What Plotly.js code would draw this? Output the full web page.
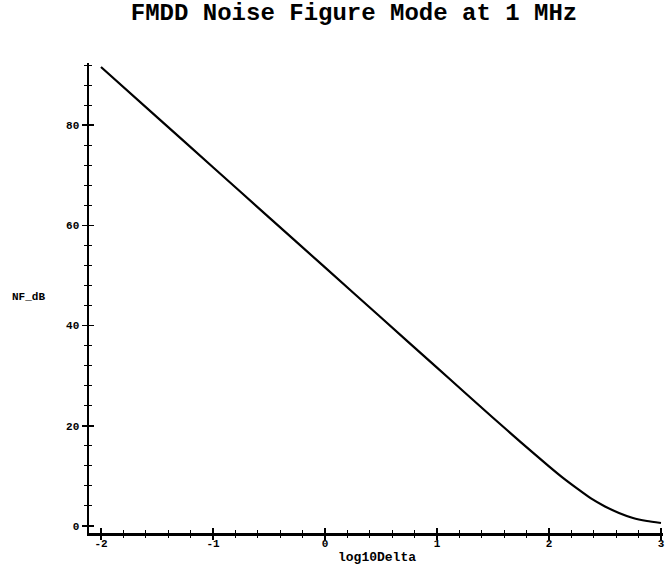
<!DOCTYPE html>
<html>
<head>
<meta charset="utf-8">
<script src="https://cdn.plot.ly/plotly-3.0.1.min.js"></script>
<style>html,body{margin:0;padding:0;background:#fff;}</style>
</head>
<body>
<div id="chart" style="width:668px;height:565px;"></div>
<script>
// Data
const log10Delta = [-2, -1.5, -1, -0.5, 0, 0.5, 1, 1.25, 1.5, 1.75, 2, 2.125, 2.25, 2.375, 2.5, 2.625, 2.75, 2.875, 3];
const NF_dB = [91.6, 81.6, 71.6, 61.6, 51.6, 41.6, 31.6, 26.6, 21.6, 16.7, 11.9, 9.6, 7.5, 5.5, 3.9, 2.6, 1.6, 1.0, 0.6];
const xTickVals = [-2, -1, 0, 1, 2, 3];
const xTickText = ['-2', '-1', '0', '1', '2', '3'];
const yTickVals = [0, 20, 40, 60, 80];
const yTickText = ['0', '20', '40', '60', '80'];

const tickFont = {family: 'Liberation Mono, monospace', size: 11, color: '#000', weight: 'bold'};
const xr = [-2.107, 3.018];
const yr = [-1.4, 92.4];

const trace = {
  x: log10Delta, y: NF_dB, type: 'scatter', mode: 'lines',
  line: {color: '#000', width: 2.2, shape: 'spline', smoothing: 0.6},
  hoverinfo: 'skip', showlegend: false
};

const layout = {
  width: 668, height: 565,
  margin: {l: 89, r: 5, t: 63, b: 32},
  paper_bgcolor: '#fff', plot_bgcolor: '#fff',
  title: {
    text: 'FMDD Noise Figure Mode at 1 MHz',
    font: {family: 'Liberation Mono, monospace', size: 24, color: '#000', weight: 'bold'},
    x: 0.53, xanchor: 'center', xref: 'container', y: 0.979, yanchor: 'middle', yref: 'container'
  },
  xaxis: {
    range: xr, showgrid: false, zeroline: false,
    showline: true, linecolor: '#000', linewidth: 2.5,
    tickmode: 'array', tickvals: xTickVals, ticktext: xTickText,
    ticks: 'outside', ticklen: 4, tickwidth: 1.5, tickcolor: '#000',
    minor: {dtick: 0.2, tick0: 0, ticks: 'outside', ticklen: 2, tickwidth: 1, tickcolor: '#000'},
    tickfont: tickFont, ticklabelstandoff: -6
  },
  xaxis2: {
    overlaying: 'x', matches: 'x', range: xr, showgrid: false, zeroline: false,
    showline: false, showticklabels: false,
    tickmode: 'array', tickvals: xTickVals,
    ticks: 'inside', ticklen: 5, tickwidth: 1.5, tickcolor: '#000',
    minor: {dtick: 0.2, tick0: 0, ticks: 'inside', ticklen: 3, tickwidth: 1, tickcolor: '#000'}
  },
  yaxis: {
    range: yr, showgrid: false, zeroline: false,
    showline: true, linecolor: '#000', linewidth: 2.5,
    tickmode: 'array', tickvals: yTickVals, ticktext: yTickText,
    ticks: 'outside', ticklen: 5, tickwidth: 1.5, tickcolor: '#000',
    minor: {dtick: 4, tick0: 0, ticks: 'outside', ticklen: 3, tickwidth: 1, tickcolor: '#000'},
    tickfont: tickFont, ticklabelstandoff: 0
  },
  yaxis2: {
    overlaying: 'y', matches: 'y', range: yr, showgrid: false, zeroline: false,
    showline: false, showticklabels: false,
    tickmode: 'array', tickvals: yTickVals,
    ticks: 'inside', ticklen: 5, tickwidth: 1.5, tickcolor: '#000',
    minor: {dtick: 4, tick0: 0, ticks: 'inside', ticklen: 3, tickwidth: 1, tickcolor: '#000'}
  },
  annotations: [
    {text: 'log10Delta', xref: 'paper', yref: 'paper', x: 0.502, y: -0.053,
     xanchor: 'center', yanchor: 'middle', showarrow: false,
     font: {family: 'Liberation Mono, monospace', size: 13, color: '#000', weight: 'bold'}},
    {text: 'NF_dB', xref: 'paper', yref: 'paper', x: -0.106, y: 0.502,
     xanchor: 'center', yanchor: 'middle', showarrow: false,
     font: {family: 'Liberation Mono, monospace', size: 11, color: '#000', weight: 'bold'}}
  ]
};

const trace2 = {x: [null], y: [null], xaxis: 'x2', yaxis: 'y2', type: 'scatter', mode: 'lines', showlegend: false, hoverinfo: 'skip'};

Plotly.newPlot('chart', [trace, trace2], layout, {displayModeBar: false, staticPlot: true});
</script>
</body>
</html>
